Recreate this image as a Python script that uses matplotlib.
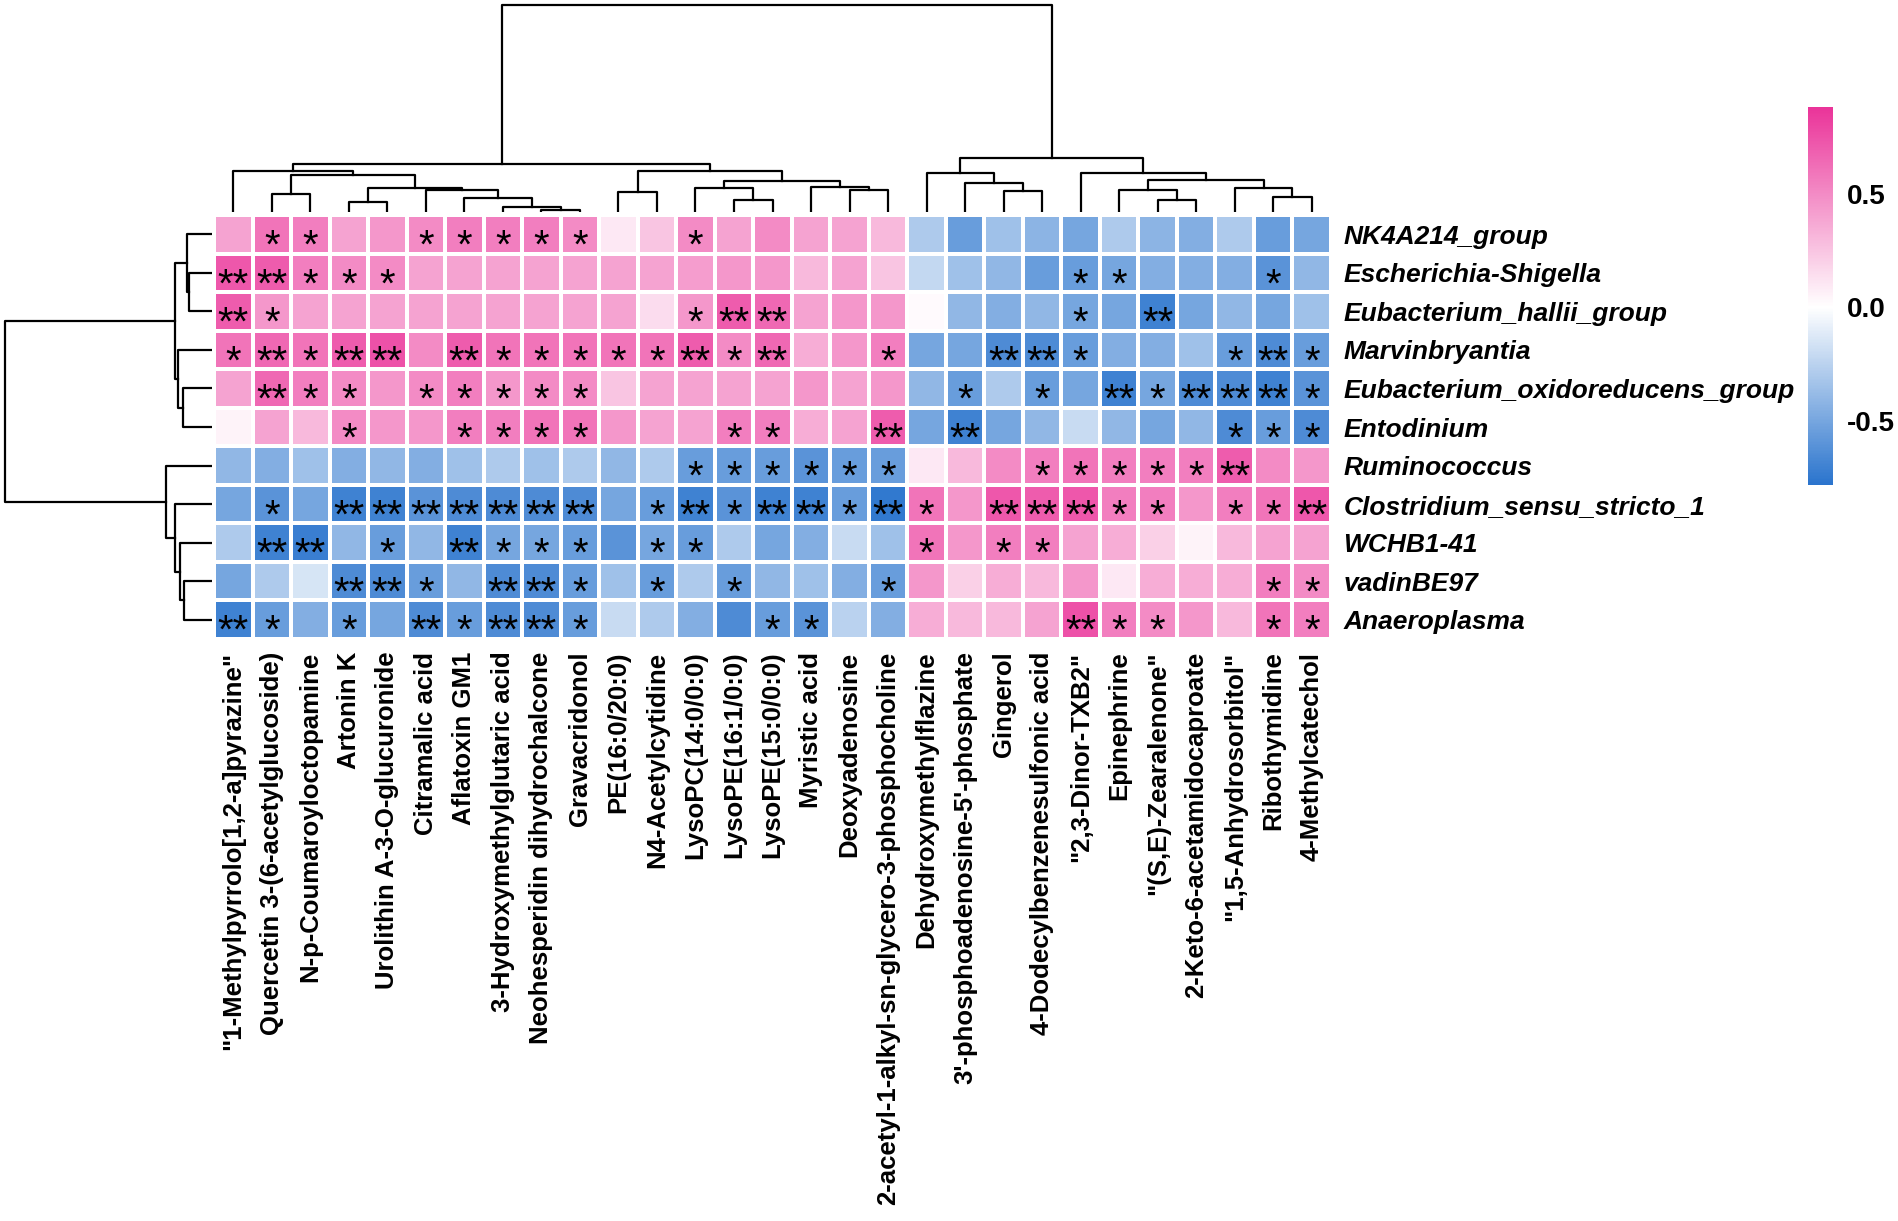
import numpy as np
import matplotlib.pyplot as plt
from matplotlib.colors import LinearSegmentedColormap, Normalize

plt.rcParams['font.family'] = ['Liberation Sans', 'DejaVu Sans']

# rows (bacteria), in displayed order
genera = ['NK4A214_group', 'Escherichia-Shigella', 'Eubacterium_hallii_group',
          'Marvinbryantia', 'Eubacterium_oxidoreducens_group', 'Entodinium',
          'Ruminococcus', 'Clostridium_sensu_stricto_1', 'WCHB1-41',
          'vadinBE97', 'Anaeroplasma']

# columns (metabolites), in displayed order
metabolites = ['"1-Methylpyrrolo[1,2-a]pyrazine"', 'Quercetin 3-(6-acetylglucoside)',
               'N-p-Coumaroyloctopamine', 'Artonin K', 'Urolithin A-3-O-glucuronide',
               'Citramalic acid', 'Aflatoxin GM1', '3-Hydroxymethylglutaric acid',
               'Neohesperidin dihydrochalcone', 'Gravacridonol', 'PE(16:0/20:0)',
               'N4-Acetylcytidine', 'LysoPC(14:0/0:0)', 'LysoPE(16:1/0:0)',
               'LysoPE(15:0/0:0)', 'Myristic acid', 'Deoxyadenosine',
               '2-acetyl-1-alkyl-sn-glycero-3-phosphocholine', 'Dehydroxymethylflazine',
               "3'-phosphoadenosine-5'-phosphate", 'Gingerol',
               '4-Dodecylbenzenesulfonic acid', '"2,3-Dinor-TXB2"', 'Epinephrine',
               '"(S,E)-Zearalenone"', '2-Keto-6-acetamidocaproate',
               '"1,5-Anhydrosorbitol"', 'Ribothymidine', '4-Methylcatechol']

# correlation values, one list per row
corr = [
    [0.40, 0.60, 0.55, 0.40, 0.45, 0.50, 0.55, 0.55, 0.55, 0.50, 0.10, 0.25, 0.50, 0.40, 0.50,
     0.40, 0.40, 0.30, -0.30, -0.55, -0.35, -0.42, -0.50, -0.30, -0.42, -0.45, -0.30, -0.55, -0.50],
    [0.72, 0.70, 0.55, 0.50, 0.50, 0.40, 0.40, 0.40, 0.40, 0.40, 0.40, 0.40, 0.42, 0.45, 0.45,
     0.30, 0.40, 0.25, -0.22, -0.35, -0.40, -0.55, -0.55, -0.50, -0.45, -0.45, -0.45, -0.60, -0.40],
    [0.70, 0.45, 0.40, 0.40, 0.40, 0.40, 0.40, 0.40, 0.40, 0.40, 0.40, 0.15, 0.45, 0.70, 0.65,
     0.40, 0.45, 0.45, 0.02, -0.40, -0.45, -0.40, -0.50, -0.50, -0.70, -0.50, -0.40, -0.50, -0.35],
    [0.60, 0.65, 0.60, 0.70, 0.75, 0.50, 0.70, 0.60, 0.60, 0.60, 0.60, 0.60, 0.70, 0.50, 0.65,
     0.35, 0.45, 0.55, -0.50, -0.50, -0.65, -0.65, -0.55, -0.45, -0.45, -0.35, -0.55, -0.65, -0.55],
    [0.40, 0.65, 0.55, 0.50, 0.45, 0.50, 0.55, 0.45, 0.50, 0.50, 0.25, 0.40, 0.40, 0.40, 0.40,
     0.45, 0.40, 0.45, -0.40, -0.55, -0.30, -0.55, -0.50, -0.70, -0.50, -0.65, -0.65, -0.70, -0.60],
    [0.05, 0.40, 0.30, 0.50, 0.45, 0.45, 0.55, 0.55, 0.60, 0.60, 0.45, 0.40, 0.40, 0.55, 0.55,
     0.35, 0.40, 0.70, -0.50, -0.70, -0.50, -0.40, -0.20, -0.40, -0.50, -0.40, -0.65, -0.55, -0.65],
    [-0.40, -0.45, -0.35, -0.45, -0.40, -0.45, -0.35, -0.30, -0.35, -0.30, -0.40, -0.30, -0.55, -0.55, -0.55,
     -0.60, -0.55, -0.55, 0.10, 0.30, 0.50, 0.55, 0.60, 0.55, 0.55, 0.55, 0.70, 0.50, 0.45],
    [-0.50, -0.60, -0.50, -0.70, -0.70, -0.60, -0.65, -0.65, -0.65, -0.65, -0.50, -0.55, -0.70, -0.60, -0.70,
     -0.70, -0.55, -0.75, 0.60, 0.45, 0.72, 0.70, 0.72, 0.55, 0.55, 0.45, 0.55, 0.60, 0.72],
    [-0.30, -0.70, -0.72, -0.40, -0.55, -0.40, -0.70, -0.50, -0.50, -0.55, -0.60, -0.50, -0.55, -0.30, -0.50,
     -0.45, -0.20, -0.35, 0.60, 0.45, 0.55, 0.55, 0.40, 0.35, 0.20, 0.05, 0.30, 0.40, 0.40],
    [-0.50, -0.30, -0.15, -0.65, -0.65, -0.55, -0.40, -0.65, -0.65, -0.55, -0.35, -0.55, -0.30, -0.55, -0.40,
     -0.35, -0.45, -0.55, 0.45, 0.20, 0.35, 0.30, 0.45, 0.10, 0.35, 0.35, 0.35, 0.55, 0.50],
    [-0.70, -0.55, -0.45, -0.55, -0.50, -0.65, -0.55, -0.65, -0.65, -0.55, -0.20, -0.30, -0.45, -0.65, -0.55,
     -0.60, -0.25, -0.45, 0.35, 0.30, 0.30, 0.40, 0.75, 0.55, 0.50, 0.45, 0.30, 0.60, 0.55],
]

# significance marks per row ('.' = none)
sig = [
    '. * * . . * * * * * . . * . . . . . . . . . . . . . . . .',
    '** ** * * * . . . . . . . . . . . . . . . . . * * . . . * .',
    '** * . . . . . . . . . . * ** ** . . . . . . . * . ** . . . .',
    '* ** * ** ** . ** * * * * * ** * ** . . * . . ** ** * . . . * ** *',
    '. ** * * . * * * * * . . . . . . . . . * . * . ** * ** ** ** *',
    '. . . * . . * * * * . . . * * . . ** . ** . . . . . . * * *',
    '. . . . . . . . . . . . * * * * * * . . . * * * * * ** . .',
    '. * . ** ** ** ** ** ** ** . * ** * ** ** * ** * . ** ** ** * * . * * **',
    '. ** ** . * . ** * * * . * * . . . . . * . * * . . . . . . .',
    '. . . ** ** * . ** ** * . * . * . . . * . . . . . . . . . * *',
    '** * . * . ** * ** ** * . . . . * * . . . . . . ** * * . . * *',
]

# dendrograms: (left, right, merge height); ints are leaf positions
col_tree = (
    ((0, ((1, 2, 18), ((3, 4, 10), (5, (6, (7, (8, 9, 2), 5), 14), 22), 24), 37), 41),
     ((10, 11, 20), ((12, (13, 14, 12), 24), (15, (16, 17, 22), 25), 31), 41), 48),
    ((18, (19, (20, 21, 21), 29), 39),
     (22, ((23, (24, 25, 12), 22), (26, (27, 28, 15), 24), 32), 39), 54),
    207)

row_tree = (
    ((0, (1, 2, 23), 25), (3, (4, 5, 29), 34), 37),
    (6, (7, (8, (9, 10, 28), 32), 37), 46),
    207)

vmin, vmax = -0.78, 0.88
cmap = LinearSegmentedColormap.from_list(
    'bwp', [(0, '#2A74CD'), (-vmin / (vmax - vmin), '#FFFFFF'), (1, '#EA3399')])

fig = plt.figure(figsize=(18.98, 12.21), dpi=100)
W, H = 1898, 1221


def px_axes(x0, y0, x1, y1):
    return fig.add_axes([x0 / W, 1 - y1 / H, (x1 - x0) / W, (y1 - y0) / H])


ax = px_axes(214, 215, 1331, 639)
ax_top = px_axes(214, 0, 1331, 212)
ax_left = px_axes(0, 215, 212, 639)
cax = px_axes(1808, 107, 1833, 485)

data = np.array(corr)
nr, nc = data.shape
mesh = ax.pcolormesh(np.arange(nc + 1), np.arange(nr + 1), data, cmap=cmap,
                     norm=Normalize(vmin, vmax), edgecolors='white', linewidth=1.6)
ax.set_xlim(0, nc)
ax.set_ylim(nr, 0)
for i, row in enumerate(sig):
    for j, s in enumerate(row.split()):
        if s != '.':
            ax.text(j + 0.5, i + 0.82, s, ha='center', va='center', fontsize=29,
                    color='black')
for s in ax.spines.values():
    s.set_visible(False)
ax.set_xticks(np.arange(nc) + 0.5)
ax.set_xticklabels(metabolites, rotation=90, fontsize=18.5, fontweight='bold')
ax.set_yticks(np.arange(nr) + 0.5)
ax.set_yticklabels(genera, fontsize=19, fontweight='bold', fontstyle='italic')
ax.yaxis.tick_right()
ax.tick_params(length=0, pad=9)


def draw_tree(a, node, top):
    if isinstance(node, int):
        return node + 0.5, 0
    left, right, h = node
    pl, hl = draw_tree(a, left, top)
    pr, hr = draw_tree(a, right, top)
    if top:
        a.plot([pl, pl, pr, pr], [hl, h, h, hr], color='black', lw=1.6)
    else:
        a.plot([hl, h, h, hr], [pl, pl, pr, pr], color='black', lw=1.6)
    return (pl + pr) / 2, h


draw_tree(ax_top, col_tree, True)
ax_top.set_xlim(0, nc)
ax_top.set_ylim(0, 212)
ax_top.axis('off')

draw_tree(ax_left, row_tree, False)
ax_left.set_ylim(nr, 0)
ax_left.set_xlim(212, 0)
ax_left.axis('off')

cb = fig.colorbar(mesh, cax=cax)
cb.outline.set_visible(False)
cb.set_ticks([-0.5, 0.0, 0.5])
cb.set_ticklabels(['-0.5', '0.0', '0.5'])
cb.ax.tick_params(length=0, pad=10)
for t in cb.ax.get_yticklabels():
    t.set_fontsize(20)
    t.set_fontweight('bold')

fig.savefig('out.png', dpi=100)
